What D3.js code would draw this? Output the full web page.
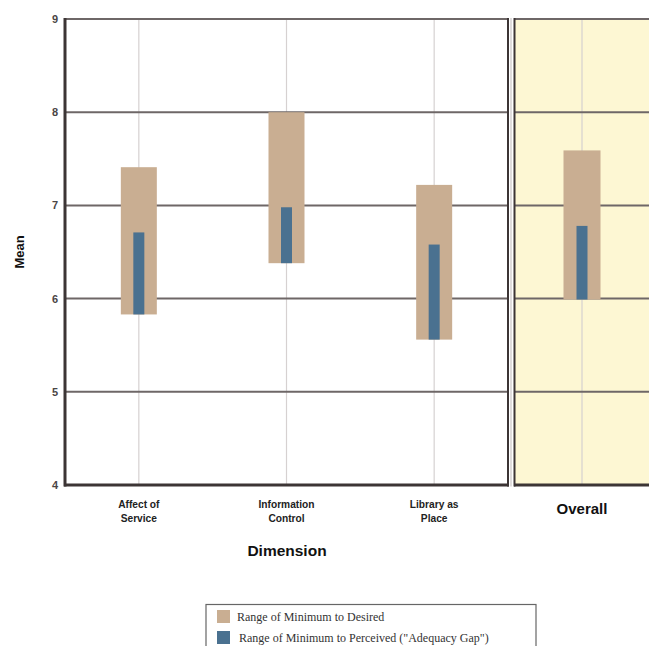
<!DOCTYPE html>
<html>
<head>
<meta charset="utf-8">
<script src="https://cdn.jsdelivr.net/npm/d3@7"></script>
<style>
  html, body { margin: 0; padding: 0; background: #fff; }
  svg { display: block; }
</style>
</head>
<body>
<svg id="chart" width="649" height="646"></svg>
<script>
// ---- data ----
const categories = [["Affect of", "Service"], ["Information", "Control"], ["Library as", "Place"]];
const categoryKeys = ["Affect of Service", "Information Control", "Library as Place"];
const minimum = [5.83, 6.38, 5.56];
const desired = [7.41, 8.00, 7.22];
const perceived = [6.71, 6.98, 6.58];
const overallLabel = "Overall";
const overallMinimum = 5.99;
const overallDesired = 7.59;
const overallPerceived = 6.78;
const yTicks = [4, 5, 6, 7, 8, 9];
const legendLabels = ["Range of Minimum to Desired", "Range of Minimum to Perceived (\"Adequacy Gap\")"];

// ---- styles ----
const tan = "#c9ae92";
const blue = "#4a7190";
const yellow = "#fdf7d3";
const gridColor = "#6e6767";
const axisColor = "#3c3535";

const svg = d3.select("#chart");

const y = d3.scaleLinear().domain([4, 9]).range([485, 19]);
const x = d3.scaleBand().domain(categoryKeys).range([65, 508]);
const xo = d3.scaleBand().domain([overallLabel]).range([514, 650]);

// overall panel background
svg.append("rect").attr("x", 514).attr("y", y(9)).attr("width", 140)
  .attr("height", y(4) - y(9)).attr("fill", yellow);

// vertical category lines
const allCenters = categoryKeys.map(k => x(k) + x.bandwidth() / 2).concat([xo(overallLabel) + xo.bandwidth() / 2]);
svg.append("g").selectAll("line").data(allCenters).join("line")
  .attr("x1", d => d).attr("x2", d => d)
  .attr("y1", y(9)).attr("y2", y(4))
  .attr("stroke", "#d6d1d1").attr("stroke-width", 1.2);

// horizontal grid lines
const gridG = svg.append("g");
yTicks.forEach(t => {
  gridG.append("line").attr("x1", 65).attr("x2", 508).attr("y1", y(t)).attr("y2", y(t))
    .attr("stroke", gridColor).attr("stroke-width", 2);
  gridG.append("line").attr("x1", 514).attr("x2", 650).attr("y1", y(t)).attr("y2", y(t))
    .attr("stroke", gridColor).attr("stroke-width", 2);
});

// bars - main panel
const barW = 36, gapW = 11;
const bars = svg.append("g");
categoryKeys.forEach((k, i) => {
  const cx = x(k) + x.bandwidth() / 2;
  bars.append("rect").attr("x", cx - barW / 2).attr("y", y(desired[i]))
    .attr("width", barW).attr("height", y(minimum[i]) - y(desired[i])).attr("fill", tan);
  bars.append("rect").attr("x", cx - gapW / 2).attr("y", y(perceived[i]))
    .attr("width", gapW).attr("height", y(minimum[i]) - y(perceived[i])).attr("fill", blue);
});
// overall bars
{
  const cx = xo(overallLabel) + xo.bandwidth() / 2;
  bars.append("rect").attr("x", cx - 37 / 2).attr("y", y(overallDesired))
    .attr("width", 37).attr("height", y(overallMinimum) - y(overallDesired)).attr("fill", tan);
  bars.append("rect").attr("x", cx - gapW / 2).attr("y", y(overallPerceived))
    .attr("width", gapW).attr("height", y(overallMinimum) - y(overallPerceived)).attr("fill", blue);
}

// panel borders
svg.append("line").attr("x1", 65).attr("x2", 65).attr("y1", y(9) - 1).attr("y2", y(4) + 1.5)
  .attr("stroke", axisColor).attr("stroke-width", 3);
svg.append("line").attr("x1", 64).attr("x2", 509).attr("y1", y(4)).attr("y2", y(4))
  .attr("stroke", axisColor).attr("stroke-width", 3);
svg.append("line").attr("x1", 508).attr("x2", 508).attr("y1", y(9) - 1).attr("y2", y(4) + 1.5)
  .attr("stroke", axisColor).attr("stroke-width", 2);
svg.append("line").attr("x1", 511).attr("x2", 511).attr("y1", y(9) - 1).attr("y2", y(4) + 1.5)
  .attr("stroke", "#c9c4c4").attr("stroke-width", 1.2);
svg.append("line").attr("x1", 514.5).attr("x2", 514.5).attr("y1", y(9) - 1).attr("y2", y(4) + 1.5)
  .attr("stroke", axisColor).attr("stroke-width", 2);
svg.append("line").attr("x1", 514).attr("x2", 650).attr("y1", y(4)).attr("y2", y(4))
  .attr("stroke", axisColor).attr("stroke-width", 3);

// y tick labels
svg.append("g").selectAll("text").data(yTicks).join("text")
  .attr("x", 58).attr("y", d => y(d) + 4)
  .attr("text-anchor", "end")
  .attr("font-family", "Liberation Sans, Arial, sans-serif")
  .attr("font-size", 11).attr("font-weight", "bold").attr("fill", "#4a4545")
  .text(d => d);

// y title
svg.append("text").attr("transform", "translate(24,252) rotate(-90)")
  .attr("text-anchor", "middle")
  .attr("font-family", "Liberation Sans, Arial, sans-serif")
  .attr("font-size", 13).attr("font-weight", "bold").attr("fill", "#111")
  .text("Mean");

// x category labels
const xl = svg.append("g");
categoryKeys.forEach((k, i) => {
  const cx = x(k) + x.bandwidth() / 2;
  const t = xl.append("text").attr("text-anchor", "middle")
    .attr("font-family", "Liberation Sans, Arial, sans-serif")
    .attr("font-size", 10.2).attr("font-weight", "bold").attr("fill", "#222");
  categories[i].forEach((line, j) => {
    t.append("tspan").attr("x", cx).attr("y", 508 + j * 14).text(line);
  });
});
svg.append("text").attr("x", xo(overallLabel) + xo.bandwidth() / 2).attr("y", 514)
  .attr("text-anchor", "middle")
  .attr("font-family", "Liberation Sans, Arial, sans-serif")
  .attr("font-size", 15).attr("font-weight", "bold").attr("fill", "#111")
  .text(overallLabel);

// x title
svg.append("text").attr("x", 287).attr("y", 556)
  .attr("text-anchor", "middle")
  .attr("font-family", "Liberation Sans, Arial, sans-serif")
  .attr("font-size", 15.5).attr("font-weight", "bold").attr("fill", "#111")
  .text("Dimension");

// legend
const lg = svg.append("g");
lg.append("rect").attr("x", 206).attr("y", 604.5).attr("width", 330).attr("height", 60)
  .attr("fill", "#fff").attr("stroke", "#666").attr("stroke-width", 1.2);
const legColors = [tan, blue];
legendLabels.forEach((lab, i) => {
  lg.append("rect").attr("x", 217).attr("y", 610 + i * 21).attr("width", 13).attr("height", 13)
    .attr("fill", legColors[i]);
  lg.append("text").attr("x", 237 + i * 2).attr("y", 621 + i * 21)
    .attr("font-family", "Liberation Serif, Times New Roman, serif")
    .attr("font-size", 12).attr("fill", "#333")
    .text(lab);
});
</script>
</body>
</html>
